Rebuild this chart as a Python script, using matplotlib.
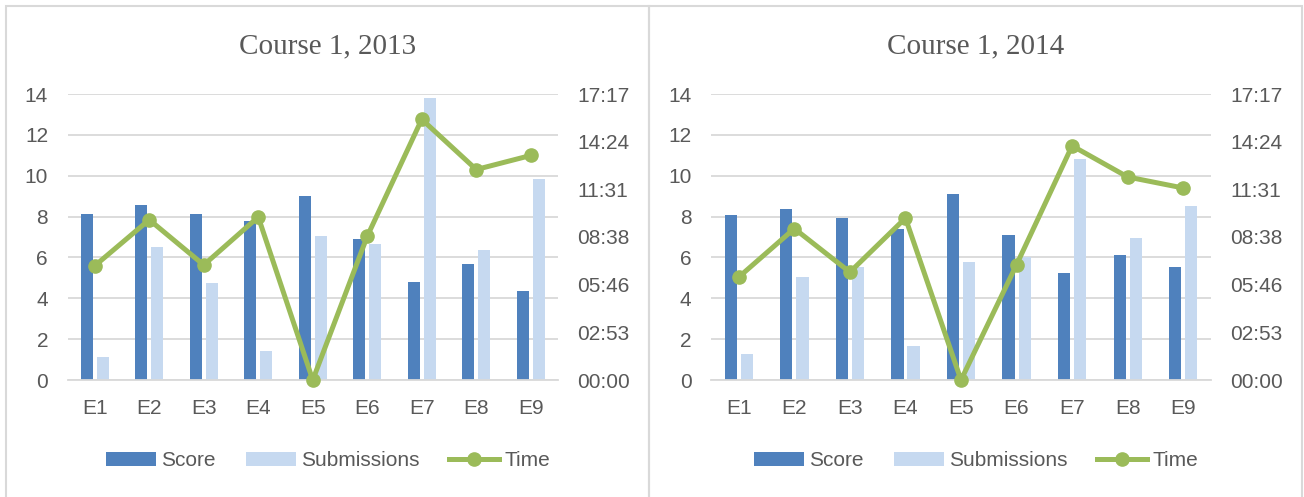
import matplotlib.pyplot as plt
import numpy as np
from matplotlib.patches import Rectangle
from matplotlib.ticker import FuncFormatter, MultipleLocator

exercises = ["E1", "E2", "E3", "E4", "E5", "E6", "E7", "E8", "E9"]

# Course 1, 2013
score_2013 = [8.13, 8.57, 8.13, 7.8, 9.0, 6.9, 4.78, 5.69, 4.38]
subs_2013 = [1.14, 6.51, 4.74, 1.41, 7.05, 6.66, 13.82, 6.35, 9.85]
time_2013 = ["06:54", "09:41", "06:57", "09:51", "00:00", "08:41", "15:45", "12:43", "13:34"]

# Course 1, 2014
score_2014 = [8.06, 8.36, 7.93, 7.41, 9.09, 7.08, 5.22, 6.10, 5.54]
subs_2014 = [1.28, 5.04, 5.51, 1.67, 5.77, 6.02, 10.81, 6.93, 8.50]
time_2014 = ["06:13", "09:09", "06:31", "09:47", "00:00", "06:58", "14:09", "12:16", "11:36"]

BLUE = "#4F81BD"
LIGHT = "#C6D9F0"
GREEN = "#9BBB59"
GRID = "#D9D9D9"
TXT = "#595959"

plt.rcParams["font.family"] = ["Liberation Sans", "DejaVu Sans"]

W, H = 1304, 497


def to_seconds(stamps):
    out = []
    for s in stamps:
        m, sec = s.split(":")
        out.append(int(m) * 60 + int(sec))
    return np.array(out)


def mmss(v, pos=None):
    total = int(round(v))
    return f"{total // 60:02d}:{total % 60:02d}"


def panel(fig, rect, title, center_x, score, subs, times):
    ax = fig.add_axes(rect)
    x = np.arange(len(exercises))
    w = 0.22
    ax.bar(x - 0.145, score, w, color=BLUE, label="Score", zorder=2)
    ax.bar(x + 0.145, subs, w, color=LIGHT, label="Submissions", zorder=2)
    ax.set_xlim(-0.5, len(exercises) - 0.5)
    ax.set_ylim(0, 14)
    ax.yaxis.set_major_locator(MultipleLocator(2))
    ax.set_xticks(x)
    ax.set_xticklabels(exercises)
    ax.grid(axis="y", color=GRID, lw=1.3, zorder=0)
    ax.set_axisbelow(True)
    for side in ["top", "right", "left"]:
        ax.spines[side].set_visible(False)
    ax.spines["bottom"].set_color(GRID)
    ax.spines["bottom"].set_linewidth(1.3)
    ax.tick_params(length=0, labelsize=15, colors=TXT)
    ax.tick_params(axis="y", pad=14)
    ax.tick_params(axis="x", pad=14)

    # time on secondary axis, Excel-style ticks every 0.002 day
    ax2 = ax.twinx()
    day = 86400
    ax2.set_ylim(0, 0.012 * day)
    ax2.set_yticks(np.arange(0, 0.0121, 0.002) * day)
    ax2.yaxis.set_major_formatter(FuncFormatter(mmss))
    ax2.plot(x, to_seconds(times), color=GREEN, lw=3.6, marker="o", ms=9.5,
             label="Time", zorder=3, clip_on=False)
    for s in ax2.spines.values():
        s.set_visible(False)
    ax2.tick_params(length=0, labelsize=15, colors=TXT, pad=14)

    h1, l1 = ax.get_legend_handles_labels()
    h2, l2 = ax2.get_legend_handles_labels()
    fig.legend(h1 + h2, l1 + l2, loc="center",
               bbox_to_anchor=(center_x, 1 - 461 / H),
               bbox_transform=fig.transFigure,
               ncol=3, frameon=False, fontsize=15, labelcolor=TXT,
               handlelength=2.4, handleheight=0.65, handletextpad=0.25,
               columnspacing=1.45, borderpad=0)

    fig.text(center_x, 1 - 46 / H, title, ha="center", va="center",
             family="Liberation Serif", fontsize=21, color=TXT)
    return ax


fig = plt.figure(figsize=(W / 100, H / 100), dpi=100)

bottom = (H - 380) / H
height = (380 - 94) / H
panel(fig, [67.5 / W, bottom, 490.5 / W, height], "Course 1, 2013", 328 / W,
      score_2013, subs_2013, time_2013)
panel(fig, [711 / W, bottom, 500 / W, height], "Course 1, 2014", 976 / W,
      score_2014, subs_2014, time_2014)

# panel borders
fig.patches.append(Rectangle((6 / W, -0.1), 643 / W, 1.1 - 6 / H, fill=False,
                             edgecolor=GRID, lw=1.5, transform=fig.transFigure))
fig.patches.append(Rectangle((649 / W, -0.1), 653 / W, 1.1 - 6 / H, fill=False,
                             edgecolor=GRID, lw=1.5, transform=fig.transFigure))

fig.savefig("out.png", dpi=100)
